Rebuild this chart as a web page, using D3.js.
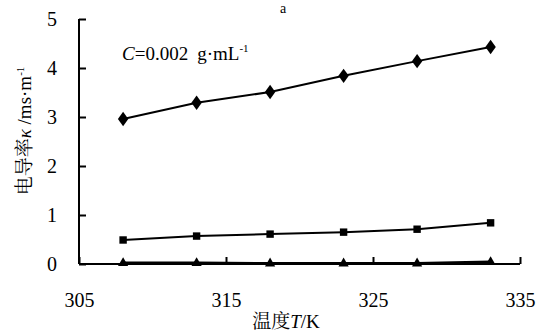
<!DOCTYPE html>
<html>
<head>
<meta charset="utf-8">
<script src="https://cdn.jsdelivr.net/npm/d3@7"></script>
<style>
  body { margin: 0; background: #fff; }
  svg { display: block; }
</style>
</head>
<body>
<svg id="chart" width="539" height="333"></svg>
<script>
const temps = [308, 313, 318, 323, 328, 333];
const seriesDiamond = [2.96, 3.29, 3.51, 3.84, 4.14, 4.43];
const seriesSquare = [0.49, 0.57, 0.61, 0.65, 0.71, 0.84];
const seriesTriangle = [0.02, 0.02, 0.01, 0.01, 0.01, 0.04];
const xTicks = [305, 315, 325, 335];
const yTicks = [0, 1, 2, 3, 4, 5];

const SERIF = "Liberation Serif";
const CJK = "Noto Serif CJK SC";

const svg = d3.select("#chart");
const plotLeft = 79, plotRight = 520, plotTop = 19, plotBottom = 264;

const x = d3.scaleLinear().domain([305, 335]).range([plotLeft, plotRight]);
const y = d3.scaleLinear().domain([0, 5]).range([plotBottom, plotTop]);

// axes, ticks pointing inward
const axisX = d3.axisBottom(x).tickValues(xTicks).tickSize(-7).tickPadding(29).tickFormat(d3.format("d"));
const axisY = d3.axisLeft(y).tickValues(yTicks).tickSize(-7).tickPadding(22).tickFormat(d3.format("d"));

const gx = svg.append("g").attr("transform", `translate(0, ${plotBottom})`).call(axisX);
const gy = svg.append("g").attr("transform", `translate(${plotLeft}, 0)`).call(axisY);

[gx, gy].forEach(g => {
    g.attr("font-family", null).attr("font-size", null);
    g.select(".domain").attr("stroke", "#000").attr("stroke-width", 2);
    g.selectAll(".tick line").attr("stroke", "#000").attr("stroke-width", 2);
    g.selectAll(".tick text").attr("fill", "#000")
        .style("font-family", SERIF).style("font-size", "20px");
});
gx.select(".domain").attr("d", `M${plotLeft},0H${plotRight}`);
gy.select(".domain").attr("d", `M0,${plotBottom}V${plotTop}`);

function drawSeries(values, width, shape, size) {
    const pts = temps.map((t, i) => ({x: t, v: values[i]}));
    const line = d3.line().x(d => x(d.x)).y(d => y(d.v));
    svg.append("path")
        .datum(pts)
        .attr("d", line)
        .attr("fill", "none")
        .attr("stroke", "#000")
        .attr("stroke-width", width);
    svg.selectAll(null)
        .data(pts)
        .enter().append("path")
        .attr("d", d3.symbol().type(shape).size(size))
        .attr("transform", d => shape === d3.symbolDiamond
            ? `translate(${x(d.x)}, ${y(d.v)}) scale(1.25, 1)`
            : `translate(${x(d.x)}, ${y(d.v)})`)
        .attr("fill", "#000");
}

drawSeries(seriesDiamond, 2, d3.symbolDiamond, 60);
drawSeries(seriesSquare, 2, d3.symbolSquare, 55);
drawSeries(seriesTriangle, 3, d3.symbolTriangle, 45);

// annotation
const ann = svg.append("text").attr("x", 122).attr("y", 60)
    .style("font-family", SERIF).style("font-size", "19px");
ann.append("tspan").style("font-style", "italic").text("C");
ann.append("tspan").text("=0.002");
ann.append("tspan").attr("dx", 9).text("g·mL");
ann.append("tspan").attr("dy", -8).style("font-size", "11px").text("-1");

// panel label at top
svg.append("text").attr("x", 280).attr("y", 13)
    .style("font-family", SERIF).style("font-size", "14px").text("a");

// y label
const yl = svg.append("text")
    .attr("transform", "translate(31, 131) rotate(-90)")
    .attr("text-anchor", "middle")
    .style("font-family", SERIF)
    .style("font-size", "19px");
yl.append("tspan").style("font-family", CJK).text("电导率");
yl.append("tspan").style("font-style", "italic").text("κ");
yl.append("tspan").text(" /ms·m");
yl.append("tspan").attr("dy", -7).style("font-size", "11px").text("-1");

// x label
const xl = svg.append("text")
    .attr("x", 286).attr("y", 328)
    .attr("text-anchor", "middle")
    .style("font-family", SERIF)
    .style("font-size", "19px");
xl.append("tspan").style("font-family", CJK).text("温度");
xl.append("tspan").style("font-style", "italic").text("T");
xl.append("tspan").text("/K");
</script>
</body>
</html>
